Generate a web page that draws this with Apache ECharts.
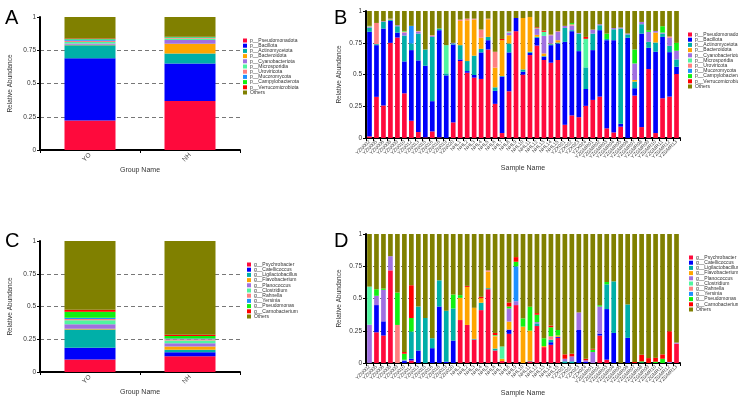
<!DOCTYPE html>
<html><head><meta charset="utf-8">
<script src="https://cdn.jsdelivr.net/npm/echarts@6/dist/echarts.min.js"></script>
<style>html,body{margin:0;padding:0;background:#fff}#c{width:738px;height:398px}</style>
</head><body><div id="c"></div><script>
// ---------- categories ----------
const groupNames = ['YO', 'NH'];
const sampleNames = ['YZN002','YZN005','YZN006','YZN008','YZN009','YZN010','YZN012','YZN013','YZN015','YZN016','YZN018','YZN019','YZN020',
  'NHL1','NHL2','NHL3','NHL4','NHL5','NHL6','NHL7','NHL8','NHL9','NHL10','NHL11','NHL12','NHL13','NHL14','NHL15',
  'YZX021','YZX022','YZX023','YZX024',
  'YZGMR01','YZGMR02','YZGMR03','YZGMR04','YZGMR05','YZGMR06','YZGMR07','YZGMR08','YZGMR09','YZGMR10','YZGMR11','YZGMR12','YZGMR13'];
const yTicks = [0, 0.25, 0.5, 0.75, 1];

// ---------- taxon names ----------
const phylumNames = ['p__Pseudomonadota','p__Bacillota','p__Actinomycetota','p__Bacteroidota','p__Cyanobacteriota','p__Microsporidia','p__Uroviricota','p__Mucoromycota','p__Campylobacterota','p__Verrucomicrobiota','Others'];
const genusNames = ['g__Psychrobacter','g__Catellicoccus','g__Ligilactobacillus','g__Flavobacterium','g__Planococcus','g__Clostridium','g__Rahnella','g__Yersinia','g__Pseudomonas','g__Carnobacterium','Others'];

// ---------- Panel A (phylum, groups) ----------
const aPseudomonadota = [0.222, 0.369];
const aBacillota = [0.468, 0.282];
const aActinomycetota = [0.098, 0.075];
const aBacteroidota = [0.004, 0.072];
const aCyanobacteriota = [0.008, 0.030];
const aMicrosporidia = [0.012, 0.008];
const aUroviricota = [0.010, 0.006];
const aMucoromycota = [0.008, 0.004];
const aCampylobacterota = [0.004, 0.004];
const aVerrucomicrobiota = [0.004, 0.002];
const aOthers = [0.162, 0.148];

// ---------- Panel B (phylum, samples) ----------
const bPseudomonadota = [.013,.324,.256,.749,.791,.352,.136,.047,.005,.052,.005,0,.123,.606,.514,.475,.465,.697,.269,.039,.368,.841,.499,.653,.728,.614,.593,.614,.104,.178,.164,.253,.30,.326,.076,.044,.089,0,.334,.086,.543,.039,.313,.326,.504];
const bBacillota = [.823,.407,.606,.173,.039,.251,.556,.564,.564,.238,.844,.493,.613,.013,.013,.021,.209,.073,.102,.444,.306,.104,.023,.018,.061,.026,.138,.13,.653,.663,.52,.133,.392,.523,.694,.726,.023,.789,.058,.736,.167,.64,.483,.35,.057];
const bActinomycetota = [.033,.008,.052,.01,.05,.204,.052,.211,.128,.506,.013,.016,.008,.112,.079,.152,.028,.026,.028,.005,.07,0,.018,.008,.008,.005,.008,.008,.11,.008,.138,.17,.13,.039,.01,.086,.75,.026,.052,.074,.047,.073,.026,.05,.058];
const bBacteroidota = [0,0,0,.004,0,0,0,0,0,0,0,0,0,.191,.321,.284,.087,.139,.155,.282,.065,0,.405,.274,.015,.021,.005,.018,0,0,0,0,0,0,0,0,0,0,.013,0,0,.078,0,0,0];
const bCyanobacteriota = [.005,0,.005,.004,.008,.023,0,.016,0,.008,0,0,.005,0,0,0,0,0,0,0,.021,0,0,0,.047,.138,.065,.066,.016,.036,.005,0,.032,.008,0,.01,.008,.008,.13,.018,.079,.013,.008,.063,.068];
const bMicrosporidia = [.003,0,0,0,0,0,0,0,0,0,0,.222,0,0,0,0,0,0,0,0,.005,0,0,0,0,.032,0,0,0,0,0,.225,0,0,0,0,0,0,0,0,0,0,0,0,0];
const bUroviricota = [.003,.167,0,0,0,.008,0,.005,0,.005,0,0,0,.01,.013,.008,.065,.005,.125,0,.005,0,0,0,.005,0,.005,.005,0,.01,0,0,0,0,0,0,0,0,0,0,0,0,0,.01,0];
const bMucoromycota = [0,0,0,0,0,0,.139,0,0,0,0,0,0,0,0,0,0,0,0,0,0,0,0,0,0,0,0,0,0,0,0,0,0,0,0,0,0,0,0,0,0,0,0,0,0];
const bCampylobacterota = [.003,0,0,0,0,.005,0,0,0,0,0,0,0,0,0,0,0,0,0,0,0,0,0,0,.005,0,0,0,0,.01,0,0,0,0,.042,0,0,0,.11,0,.013,0,.05,0,.062];
const bVerrucomicrobiota = [0,0,0,0,0,0,0,0,0,0,0,0,0,0,0,0,0,0,0,.01,0,0,0,0,.005,.01,0,0,0,0,0,.015,0,0,0,0,0,0,0,0,0,0,0,0,0];
const bOthers = [.117,.094,.081,.06,.112,.157,.117,.157,.303,.191,.138,.269,.251,.068,.06,.06,.146,.06,.321,.22,.16,.055,.055,.047,.126,.154,.186,.159,.117,.095,.173,.204,.146,.104,.178,.134,.13,.177,.303,.086,.151,.157,.12,.201,.251];

// ---------- Panel C (genus, groups) ----------
const cPsychrobacter = [0.095, 0.120];
const cCatellicoccus = [0.090, 0.030];
const cLigilactobacillus = [0.140, 0.020];
const cFlavobacterium = [0.005, 0.025];
const cPlanococcus = [0.035, 0.025];
const cClostridium = [0.030, 0.020];
const cRahnella = [0.010, 0.010];
const cYersinia = [0.010, 0.005];
const cPseudomonas = [0.045, 0.020];
const cCarnobacterium = [0.015, 0.010];
const cOthers = [0.525, 0.715];

// ---------- Panel D (genus, samples) ----------
const dPsychrobacter = [0,.238,.213,.718,0,0,.02,0,0,0,0,0,0,.333,.295,.182,.41,.572,.097,.015,.226,.449,0,.013,.287,.123,.141,.195,0,0,0,0,0,.213,.026,0,0,0,0,0,0,0,0,0,.15];
const dCatellicoccus = [0,.211,.11,0,0,.015,.013,.097,0,.115,.438,.01,.174,0,0,0,0,0,0,0,.033,0,0,0,0,0,.02,.008,0,0,.256,.008,0,.015,.392,.233,0,.195,0,0,0,0,0,0,0];
const dLigilactobacillus = [0,0,0,0,0,.005,.211,.341,.349,.077,.203,.395,.249,0,0,.005,.057,.008,.015,0,0,0,0,.005,.02,0,.02,0,.013,.013,0,0,0,0,.192,.4,0,.259,0,.005,0,0,0,0,0];
const dFlavobacterium = [0,0,0,0,0,0,0,0,0,0,0,0,0,.172,.295,.241,.036,.128,.095,.018,.062,0,.282,.233,0,.008,0,.01,0,0,0,0,0,0,0,0,0,0,0,0,0,0,0,0,0];
const dPlanococcus = [.297,.072,.244,.11,0,.005,0,0,0,0,0,0,0,0,0,0,0,0,0,0,.102,.03,0,0,.01,0,0,0,.02,.038,.136,.013,.085,.21,0,0,0,0,0,0,0,0,0,.008,.008];
const dClostridium = [.295,0,0,0,0,0,0,0,0,0,0,0,0,0,0,0,0,0,0,.095,0,0,0,0,0,0,0,0,0,0,0,0,0,0,0,0,0,0,0,0,0,0,0,0,0];
const dRahnella = [0,0,0,0,.295,0,0,0,0,0,0,0,0,0,0,0,0,.01,.005,0,0,0,0,0,0,0,.026,0,0,0,0,0,0,0,0,0,0,0,0,0,0,0,0,0,0];
const dYersinia = [0,0,0,0,0,0,0,0,0,0,0,0,0,0,0,0,0,0,0,0,0,.27,0,0,0,0,0,0,0,0,0,0,0,0,0,0,0,0,0,0,0,0,0,0,0];
const dPseudomonas = [0,.051,.01,0,.251,.047,.105,0,0,0,0,0,.108,.021,0,0,0,0,.005,0,.015,.036,.064,.185,.057,.061,.07,.043,0,0,0,0,.018,.01,.018,0,0,0,0,.008,0,.01,.033,0,0];
const dCarnobacterium = [0,0,0,0,0,.013,.254,0,0,0,0,0,0,0,.008,0,.01,0,.016,0,.031,.036,0,0,.013,0,.013,0,.034,.021,0,.012,.007,0,0,0,0,0,.008,.051,.038,.03,.034,.238,0];
const dOthers = [.408,.428,.423,.172,.454,.915,.397,.562,.651,.808,.359,.595,.469,.474,.402,.572,.487,.282,.767,.872,.531,.179,.654,.564,.613,.808,.71,.744,.933,.928,.608,.967,.89,.552,.372,.367,1,.546,.992,.936,.962,.96,.933,.754,.842];

// ---------- styles ----------
const colors = ['#FE0A3C','#0000FA','#00AFA8','#FFA500','#A070E0','#50F5A0','#FF8080','#1E90FF','#12F012','#FF0000','#808000'];
const FONT = '"Liberation Sans", Arial, sans-serif';

const panels = [
  {key:'A', names:phylumNames, cats:groupNames, xName:'Group Name', barWidth:'51%',
   data:[aPseudomonadota,aBacillota,aActinomycetota,aBacteroidota,aCyanobacteriota,aMicrosporidia,aUroviricota,aMucoromycota,aCampylobacterota,aVerrucomicrobiota,aOthers]},
  {key:'B', names:phylumNames, cats:sampleNames, xName:'Sample Name', barWidth:'67%',
   data:[bPseudomonadota,bBacillota,bActinomycetota,bBacteroidota,bCyanobacteriota,bMicrosporidia,bUroviricota,bMucoromycota,bCampylobacterota,bVerrucomicrobiota,bOthers]},
  {key:'C', names:genusNames, cats:groupNames, xName:'Group Name', barWidth:'51%',
   data:[cPsychrobacter,cCatellicoccus,cLigilactobacillus,cFlavobacterium,cPlanococcus,cClostridium,cRahnella,cYersinia,cPseudomonas,cCarnobacterium,cOthers]},
  {key:'D', names:genusNames, cats:sampleNames, xName:'Sample Name', barWidth:'67%',
   data:[dPsychrobacter,dCatellicoccus,dLigilactobacillus,dFlavobacterium,dPlanococcus,dClostridium,dRahnella,dYersinia,dPseudomonas,dCarnobacterium,dOthers]}
];

const grids = [
  {left:40, top:17, width:200, height:133},
  {left:366, top:11, width:314, height:127},
  {left:40, top:241, width:200, height:131},
  {left:366, top:234, width:314, height:130}
];
const yNameGap = [26, 23, 26, 23];
const legendPos = [{left:243, top:38},{left:688, top:32},{left:247, top:262},{left:689, top:255}];
const letterPos = [[5,8],[334,8],[5,231],[334,231]];

const xAxes = [], yAxes = [], series = [], legends = [], graphics = [];
panels.forEach((p, gi) => {
  const small = p.cats.length > 5;
  xAxes.push({
    type:'category', gridIndex:gi, data:p.cats,
    name:p.xName, nameLocation:'middle', nameGap: small ? 27 : 16,
    nameTextStyle:{fontSize:7, color:'#333', fontFamily:FONT},
    axisLine:{show:true, lineStyle:{color:'#000', width:2}},
    axisTick:{show:true, length:3, alignWithLabel:false, lineStyle:{color:'#000', width:1}},
    axisLabel:{rotate:45, interval:0, fontSize: small ? 5 : 6.5, color:'#444', margin: small ? 3 : 4, fontFamily:FONT},
    splitLine:{show:false}
  });
  yAxes.push({
    type:'value', gridIndex:gi, min:yTicks[0], max:yTicks[yTicks.length-1], interval:0.25,
    name:'Relative Abundance', nameLocation:'middle', nameGap:yNameGap[gi],
    nameTextStyle:{fontSize:6.5, color:'#333', fontFamily:FONT},
    axisLine:{show:true, lineStyle:{color:'#000', width:2}},
    axisTick:{show:true, length:3, lineStyle:{color:'#000', width:1}},
    axisLabel:{fontSize:6.5, color:'#333', margin:4, fontFamily:FONT, formatter:v=>String(v)},
    splitLine:{show:true, showMinLine:false, showMaxLine:false, lineStyle:{type:[4,3], color:'#777', width:1}}
  });
  p.names.forEach((nm, si) => {
    series.push({
      type:'bar', name:nm, stack:p.key, xAxisIndex:gi, yAxisIndex:gi,
      data:p.data[si], barWidth:p.barWidth,
      itemStyle:{color:colors[si]}, emphasis:{disabled:true}
    });
  });
  legends.push({
    data:p.names, orient:'vertical', left:legendPos[gi].left, top:legendPos[gi].top,
    itemWidth:4, itemHeight:4, itemGap:0.2, padding:0, icon:'rect', selectedMode:false,
    textStyle:{fontSize:5, lineHeight:5, color:'#333', fontFamily:FONT, padding:[0,0,0,-2]}
  });
  graphics.push({type:'text', left:letterPos[gi][0], top:letterPos[gi][1],
    style:{text:p.key, fontSize:20, fill:'#000', fontFamily:FONT}});
});

const chart = echarts.init(document.getElementById('c'), null, {renderer:'canvas'});
chart.setOption({
  animation:false,
  backgroundColor:'#fff',
  color:colors,
  grid:grids,
  xAxis:xAxes, yAxis:yAxes, series:series, legend:legends, graphic:graphics
});
</script></body></html>
